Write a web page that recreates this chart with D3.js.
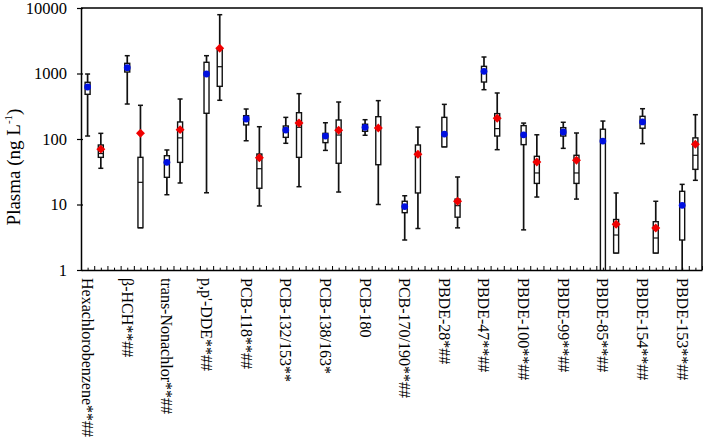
<!DOCTYPE html>
<html lang="en">

<head>
    <meta charset="UTF-8">
    <title>Plasma box plot</title>
    <script src="https://d3js.org/d3.v7.min.js"></script>
    <style>
        body { margin: 0; background: #fff; }
        svg { display: block; font-family: "Liberation Serif", "Times New Roman", serif; }
    </style>
</head>

<body>
    <svg id="chart" width="705" height="448"></svg>

    <script>
        // categories (labels under the axis)
        var categories = ['Hexachlorobenzene**##', 'β-HCH**##', 'trans-Nonachlor**##', "p,p'-DDE**##",
            'PCB-118**##', 'PCB-132/153**', 'PCB-138/163*', 'PCB-180', 'PCB-170/190**##',
            'PBDE-28*##', 'PBDE-47**##', 'PBDE-100**##', 'PBDE-99**##', 'PBDE-85**##',
            'PBDE-154**##', 'PBDE-153**##'];

        // first box of each pair (blue mean)
        var blueLow  = [111, 342, 14.1, 15.1, 94, 86, 67, 114, 2.87, 76, 566, 4.1, 72, 0.3, 85, 0.4];
        var blueQ1   = [481, 1054, 26, 247, 164, 106, 88, 131, 7.5, 76, 741, 82, 111, 0.5, 146, 2.87];
        var blueMed  = [600, 1200, 42, 1000, 195, 130, 105, 150, 9.3, 119, 1080, 116, 128, 93, 182, 9.7];
        var blueQ3   = [734, 1430, 55.6, 1483, 227, 158, 122, 168, 11.2, 214, 1286, 160, 149, 141, 222, 15.9];
        var blueHigh = [982, 1870, 68, 1870, 287, 214, 177, 197, 13.6, 338, 1786, 175, 180, 188, 290, 20.3];
        var blueMean = [622, 1227, 44, 982, 202, 137, 111, 151, 9.3, 119, 1080, 116, 128, 93, 182, 9.7];

        // second box of each pair (red mean)
        var redLow  = [35.7, 4.42, 21.3, 390, 9.5, 18.7, 15.5, 10, 4.3, 4.4, 68.7, 13, 12.1, 1.82, 1.82, 23.4];
        var redQ1   = [52.5, 4.42, 44, 637, 17.7, 52.5, 42.6, 40.5, 15, 6.4, 111, 21, 21, 1.82, 1.82, 34.4];
        var redMed  = [60, 21.8, 104, 1270, 35.2, 151, 115, 140, 60, 9.6, 144, 30.3, 30.3, 3.42, 3.08, 56.4];
        var redQ3   = [81, 52.5, 182, 2400, 59, 252, 195, 219, 81, 12.1, 244, 54.4, 56.4, 5.9, 5.46, 104];
        var redHigh = [122, 327, 408, 7900, 154, 492, 367, 385, 152, 26.3, 504, 116, 123.5, 15, 11.2, 235];
        var redMean = [70, 122, 139, 2423, 51.9, 175, 136, 147, 58.4, 11.2, 207, 44.6, 47.3, 4.99, 4.38, 83];

        var yTicks = [1, 10, 100, 1000, 10000];

        const margin = { top: 8, right: 3, bottom: 178, left: 81 },
            width = 705 - margin.left - margin.right,
            height = 448 - margin.top - margin.bottom;

        const svg = d3.select('#chart');

        // 3 slots per compound (blue, red, gap), last gap dropped
        const nSlots = categories.length * 3 - 1;
        const x = d3.scaleLinear().domain([0, nSlots]).range([0, width]);
        const y = d3.scaleLog().domain([1, 10000]).range([height, 0]);

        const g = svg.append('g')
            .attr('transform', 'translate(' + margin.left + ',' + margin.top + ')');

        svg.append('defs').append('clipPath').attr('id', 'clip')
            .append('rect').attr('width', width).attr('height', height);

        // build box rows from the arrays
        function rows(low, q1, med, q3, high, mean, offset, kind) {
            return categories.map(function (c, i) {
                return { i: i, pos: i * 3 + offset, low: low[i], q1: q1[i], med: med[i],
                    q3: q3[i], high: high[i], mean: mean[i], kind: kind };
            });
        }
        var boxes = rows(blueLow, blueQ1, blueMed, blueQ3, blueHigh, blueMean, 0.5, 'blue')
            .concat(rows(redLow, redQ1, redMed, redQ3, redHigh, redMean, 1.5, 'red'));

        const plot = g.append('g').attr('clip-path', 'url(#clip)');
        const boxW = 5, capW = 5;

        var bg = plot.selectAll('g.box')
            .data(boxes)
            .join('g')
            .classed('box', true)
            .attr('transform', function (d) { return 'translate(' + x(d.pos) + ',0)'; });

        // whisker
        bg.append('line')
            .attr('y1', function (d) { return y(d.high); })
            .attr('y2', function (d) { return y(d.low); })
            .attr('stroke', '#111').attr('stroke-width', 1.7);
        bg.append('line')
            .attr('x1', -capW / 2).attr('x2', capW / 2)
            .attr('y1', function (d) { return y(d.high); })
            .attr('y2', function (d) { return y(d.high); })
            .attr('stroke', '#111').attr('stroke-width', 1.5);
        bg.append('line')
            .attr('x1', -capW / 2).attr('x2', capW / 2)
            .attr('y1', function (d) { return y(d.low); })
            .attr('y2', function (d) { return y(d.low); })
            .attr('stroke', '#111').attr('stroke-width', 1.5);

        // box
        bg.append('rect')
            .attr('x', -boxW / 2)
            .attr('width', boxW)
            .attr('y', function (d) { return y(d.q3); })
            .attr('height', function (d) { return y(d.q1) - y(d.q3); })
            .attr('fill', '#fff')
            .attr('stroke', '#111')
            .attr('stroke-width', 1.4);

        // median
        bg.append('line')
            .attr('x1', -boxW / 2).attr('x2', boxW / 2)
            .attr('y1', function (d) { return y(d.med); })
            .attr('y2', function (d) { return y(d.med); })
            .attr('stroke', '#111').attr('stroke-width', 1.2);

        // means
        bg.filter(function (d) { return d.kind === 'blue'; })
            .append('circle')
            .attr('cy', function (d) { return y(d.mean); })
            .attr('r', 3.4)
            .attr('fill', '#0010e0');

        bg.filter(function (d) { return d.kind === 'red'; })
            .append('path')
            .attr('d', d3.symbol(d3.symbolSquare, 40)())
            .attr('transform', function (d) { return 'translate(0,' + y(d.mean) + ') rotate(45)'; })
            .attr('fill', '#f00000');

        // frame (top + right)
        g.append('path')
            .attr('d', 'M0,0H' + width + 'V' + height)
            .attr('fill', 'none').attr('stroke', '#000').attr('stroke-width', 1.5);

        // y axis
        const yAxis = g.append('g')
            .call(d3.axisLeft(y).tickValues(yTicks).tickFormat(d3.format('d'))
                .tickSizeInner(4).tickSizeOuter(0).tickPadding(10));
        yAxis.select('.domain').attr('stroke-width', 1.5);
        yAxis.selectAll('.tick line').attr('x1', 2).attr('stroke-width', 1.2);
        yAxis.selectAll('text')
            .attr('font-size', 16.5)
            .attr('font-family', '"Liberation Serif", serif')
            .attr('fill', '#000');

        // x axis: tall ticks at slot edges, short ticks at slot centres
        const xAxis = g.append('g')
            .attr('transform', 'translate(0,' + height + ')')
            .call(d3.axisBottom(x).tickValues(d3.range(0, nSlots + 0.01, 0.5))
                .tickFormat('').tickSizeInner(-4).tickSizeOuter(0));
        xAxis.select('.domain').attr('stroke-width', 1.5);
        xAxis.selectAll('.tick line')
            .attr('y2', function (d) { return d % 1 === 0 ? -4 : -2.3; })
            .attr('stroke-width', 1);

        // category labels, rotated
        g.append('g').selectAll('text')
            .data(categories)
            .join('text')
            .attr('transform', function (d, i) {
                return 'translate(' + (x(i * 3 + 0.5) - 5.5) + ',' + (height + 8) + ') rotate(90)';
            })
            .attr('font-size', 16)
            .attr('fill', '#000')
            .text(function (d) { return d; });

        // y title
        var title = svg.append('text')
            .attr('transform', 'translate(20,' + 167 + ') rotate(-90)')
            .attr('text-anchor', 'middle')
            .attr('font-size', 19)
            .attr('fill', '#000');
        title.append('tspan').text('Plasma (ng L');
        title.append('tspan').attr('font-size', 11).attr('dy', -8).text('-1');
        title.append('tspan').attr('dy', 8).text(')');
    </script>
</body>

</html>
